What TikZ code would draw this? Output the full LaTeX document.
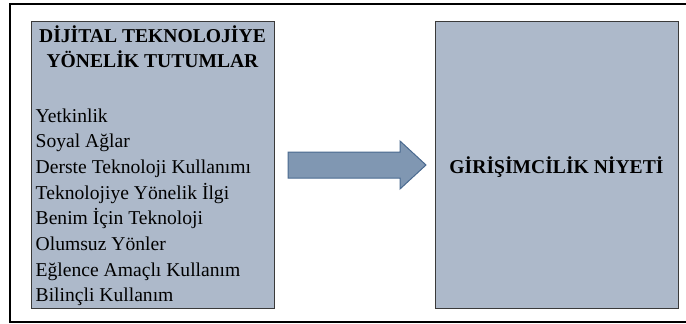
\documentclass[tikz,border=0pt]{standalone}
\usepackage{fontspec}
\setmainfont{Liberation Serif}
\definecolor{boxfill}{HTML}{ADB9CA}
\definecolor{boxline}{HTML}{3A3A3A}
\definecolor{arrowfill}{HTML}{8097B2}
\definecolor{arrowline}{HTML}{4A6A90}
\tikzset{
  panel/.style={draw=boxline, line width=1pt, fill=boxfill, anchor=north west, inner sep=0pt},
  txt/.style={inner sep=0pt, font=\fontsize{19.6}{25.7}\selectfont},
  ttl/.style={inner sep=0pt, font=\bfseries\fontsize{19.6}{25}\selectfont},
  blockarrow/.style={draw=arrowline, line width=1pt, fill=arrowfill, line join=miter}
}
\begin{document}
\begin{tikzpicture}[x=1pt,y=-1pt]
\useasboundingbox (0,0) rectangle (686,324);
\fill[white] (0,0) rectangle (686,324);
\draw[line width=2pt] (687,4) -- (10,4) -- (10,322) -- (687,322);
\node[panel, minimum width=243pt, minimum height=287pt] (L) at (31,21) {};
\node[panel, minimum width=243pt, minimum height=287pt] (R) at (435,21) {};
\node[ttl, anchor=base] (t1) at (152.5,42) {DİJİTAL TEKNOLOJİYE};
\node[ttl, anchor=base] (t2) at (152.5,67) {YÖNELİK TUTUMLAR};
\foreach \i/\t in {0/Yetkinlik,1/Soyal Ağlar,2/Derste Teknoloji Kullanımı,3/Teknolojiye Yönelik İlgi,4/Benim İçin Teknoloji,5/Olumsuz Yönler,6/Eğlence Amaçlı Kullanım,7/Bilinçli Kullanım}
  \node[txt, anchor=base west, name=item\i] at (35.5,{122+25.7*\i}) {\t};
\node[ttl, anchor=base] (rt) at (556.5,173) {GİRİŞİMCİLİK NİYETİ};
\coordinate (a0) at (288,165);
\coordinate (a1) at (426,165);
\draw[blockarrow] (288,152) -- (400,152) -- (400,141) -- (a1) -- (400,189) -- (400,178) -- (288,178) -- cycle;
\end{tikzpicture}
\end{document}
